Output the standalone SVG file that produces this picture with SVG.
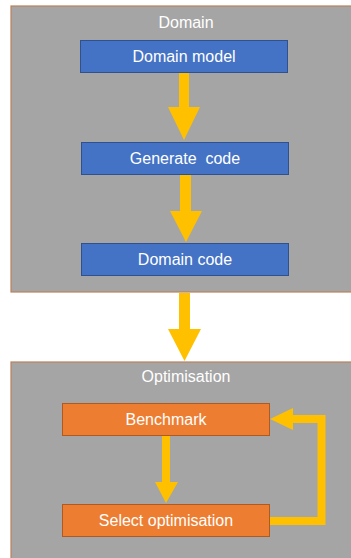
<svg xmlns="http://www.w3.org/2000/svg" width="351" height="558" viewBox="0 0 351 558">
  <style>
    .container { fill: #A5A5A5; stroke: #B9805A; stroke-width: 1.2; }
    .blue { fill: #4472C4; stroke: #2F528F; stroke-width: 1; }
    .orange { fill: #ED7D31; stroke: #AE5A21; stroke-width: 1; }
    .label { font-family: "Liberation Sans", Arial, sans-serif; font-size: 16px; fill: #FFFFFF; text-anchor: middle; }
    .arrow { fill: #FFC000; }
    .loop { fill: none; stroke: #FFC000; stroke-width: 8; stroke-linejoin: miter; }
  </style>
  <rect width="351" height="558" fill="#FFFFFF"/>

  <!-- Domain container -->
  <g id="domain">
    <rect class="container" x="11" y="6" width="345" height="286"/>
    <text class="label" x="186" y="28">Domain</text>
  </g>

  <!-- Optimisation container -->
  <g id="optimisation">
    <rect class="container" x="11" y="362" width="345" height="200"/>
    <text class="label" x="186" y="382">Optimisation</text>
  </g>

  <g id="domain-model">
    <rect class="blue" x="80.5" y="40.5" width="207" height="32"/>
    <text class="label" x="184" y="62">Domain model</text>
  </g>

  <g id="generate-code">
    <rect class="blue" x="81.5" y="142.5" width="207" height="32"/>
    <text class="label" x="185" y="164" xml:space="preserve">Generate  code</text>
  </g>

  <g id="domain-code">
    <rect class="blue" x="81.5" y="243.5" width="207" height="32"/>
    <text class="label" x="185" y="265">Domain code</text>
  </g>

  <g id="benchmark">
    <rect class="orange" x="62.5" y="403.5" width="207" height="32"/>
    <text class="label" x="166" y="425">Benchmark</text>
  </g>

  <g id="select-optimisation">
    <rect class="orange" x="62.5" y="504.5" width="207" height="32"/>
    <text class="label" x="166" y="526">Select optimisation</text>
  </g>

  <!-- Block arrows between steps -->
  <g id="connectors">
    <polygon class="arrow" points="179,73 189,73 189,107 200,107 184,140 168,107 179,107"/>
    <polygon class="arrow" points="180,175 191,175 191,211 202,211 186,242 170,211 180,211"/>
    <polygon class="arrow" points="179,293 190,293 190,329 201,329 184.5,361 168,329 179,329"/>
    <polygon class="arrow" points="162,436 170,436 170,482 178,482 166,503 155,482 162,482"/>
    <polyline class="loop" points="270,521 321.5,521 321.5,419 292,419"/>
    <polygon class="arrow" points="293,408 270,419 293,430"/>
  </g>
</svg>
